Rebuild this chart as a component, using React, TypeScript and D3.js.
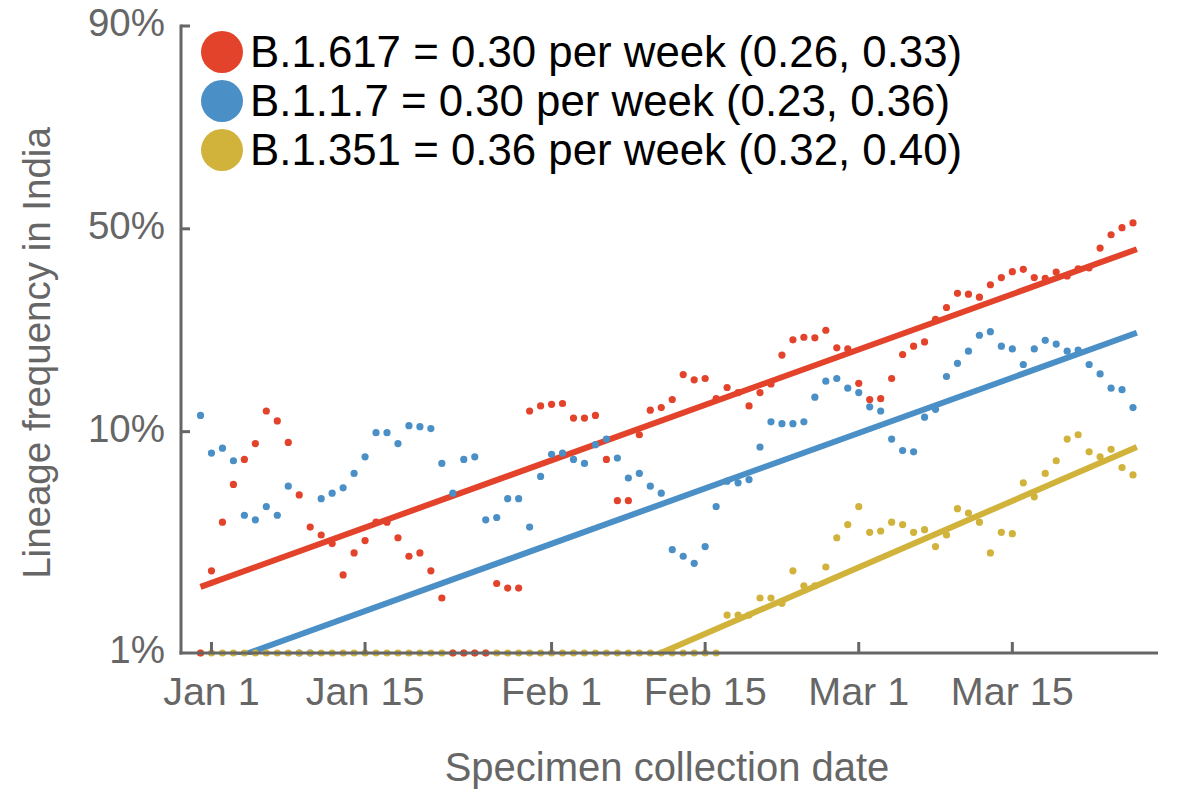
import React, { useEffect } from 'react';
import * as d3 from 'd3';

// ---------- data ----------
const firstDate = new Date(Date.UTC(2020, 11, 31)); // first sample day
const tickDates = [
  new Date(Date.UTC(2021, 0, 1)),
  new Date(Date.UTC(2021, 0, 15)),
  new Date(Date.UTC(2021, 1, 1)),
  new Date(Date.UTC(2021, 1, 15)),
  new Date(Date.UTC(2021, 2, 1)),
  new Date(Date.UTC(2021, 2, 15)),
];
const tickLabels = ['Jan 1', 'Jan 15', 'Feb 1', 'Feb 15', 'Mar 1', 'Mar 15'];
const yTickValues = [0.01, 0.1, 0.5, 0.9];
const yTickLabels = ['1%', '10%', '50%', '90%'];

const lineages = ['B.1.617', 'B.1.1.7', 'B.1.351'];
const colors = ['#E2432A', '#4A8FC6', '#D1B33C'];
const ratePerWeek = [0.3, 0.3, 0.36];
const rateLow = [0.26, 0.23, 0.32];
const rateHigh = [0.33, 0.36, 0.4];
const fitEndPct = [44.5, 24.5, 8.6]; // fitted frequency at the end of the fit line

// daily lineage frequency (%) ; 0 = none detected (drawn on the 1% floor)
const b1617 = [
  0, 2.4, 4.0, 5.9, 7.6, 8.9, 12.2, 11.1, 9.0, 5.3,
  3.8, 3.5, 3.2, 2.3, 2.9, 3.3, 4.0, 4.0, 3.4, 2.8,
  2.9, 2.4, 1.8, 0, 0, 0, 0, 2.1, 2.0, 2.0,
  12.2, 12.8, 13.0, 13.1, 11.4, 11.4, 11.7, 7.6, 5.0, 5.0,
  9.7, 12.3, 12.6, 13.6, 17.1, 16.3, 16.5, 13.7, 15.2, 14.5,
  12.8, 14.5, 15.7, 20.3, 23.1, 23.6, 23.5, 25.0, 21.6, 21.4,
  15.8, 13.6, 13.7, 16.5, 20.4, 21.9, 22.7, 27.3, 29.9, 33.2,
  33.0, 32.3, 35.3, 37.1, 38.6, 39.2, 37.1, 36.9, 38.5, 37.5,
  39.3, 39.6, 44.8, 48.4, 50.3, 51.6,
];
const b117 = [
  11.7, 8.1, 8.5, 7.5, 4.3, 4.1, 4.7, 4.3, 5.8, 0,
  0, 5.1, 5.4, 5.7, 6.6, 7.8, 9.9, 9.9, 8.9, 10.6,
  10.5, 10.3, 7.3, 5.4, 7.6, 7.8, 4.1, 4.2, 5.1, 5.1,
  3.8, 6.4, 8.0, 8.1, 7.6, 7.3, 8.8, 9.3, 7.7, 6.3,
  6.6, 5.8, 5.4, 3.0, 2.8, 2.6, 3.1, 4.7, 6.1, 6.0,
  6.2, 8.6, 11.0, 10.8, 10.8, 11.0, 13.9, 16.1, 16.5, 15.1,
  14.5, 12.7, 12.2, 9.3, 8.3, 8.2, 11.5, 12.4, 16.8, 18.9,
  21.0, 24.0, 24.7, 21.9, 21.4, 18.7, 21.4, 23.0, 22.3, 21.0,
  21.2, 18.7, 17.2, 15.1, 14.9, 12.6,
];
const b1351 = [
  0, 0, 0, 0, 0, 0, 0, 0, 0, 0,
  0, 0, 0, 0, 0, 0, 0, 0, 0, 0,
  0, 0, 0, 0, 0, 0, 0, 0, 0, 0,
  0, 0, 0, 0, 0, 0, 0, 0, 0, 0,
  0, 0, 0, 0, 0, 0, 0, 0, 1.5, 1.5,
  1.5, 1.8, 1.8, 1.7, 2.4, 2.05, 2.05, 2.5, 3.4, 3.9,
  4.7, 3.6, 3.65, 4.0, 3.9, 3.6, 3.7, 3.1, 3.5, 4.6,
  4.4, 4.0, 2.9, 3.6, 3.55, 6.0, 5.2, 6.6, 7.5, 9.3,
  9.7, 8.2, 7.8, 8.4, 7.0, 6.5,
];
const seriesValues = [b1617, b117, b1351];
const drawOrder = [1, 2, 0];

// ---------- layout ----------
const W = 1200;
const H = 797;
const axisColor = '#666666';
const font = '"Liberation Sans", Arial, Helvetica, sans-serif';
const plotLeft = 181;
const plotRight = 1158;
const plotTop = 26;
const plotBottom = 653;

const logit = (p: number) => Math.log(p / (1 - p));
const nDays = b1617.length;
const lastDate = d3.utcDay.offset(firstDate, nDays - 1);
const fitEnd = new Date(lastDate.getTime() + 0.35 * 86400000);

const x = d3.scaleUtc().domain([firstDate, lastDate]).range([200.5, 1133]);
const yLogit = d3
  .scaleLinear()
  .domain([logit(0.01), logit(0.9)])
  .range([plotBottom, plotTop]);
const y = (pct: number) => yLogit(logit(Math.max(pct, 1) / 100));

export default function App() {
  useEffect(() => {
    document.body.style.margin = '0';
  }, []);

  const dates = b1617.map((_, i) => d3.utcDay.offset(firstDate, i));

  const fitLine = (s: number) => {
    const lEnd = logit(fitEndPct[s] / 100);
    const perDay = ratePerWeek[s] / 7;
    const pts = [firstDate, fitEnd].map((d) => {
      const days = (fitEnd.getTime() - d.getTime()) / 86400000;
      return [x(d), yLogit(lEnd - perDay * days)] as [number, number];
    });
    return d3.line()(pts) || '';
  };

  return (
    <svg
      width={W}
      height={H}
      style={{ position: 'fixed', left: 0, top: 0, background: '#fff' }}
      fontFamily={font}
    >
      <defs>
        <clipPath id="plotClip">
          <rect x={plotLeft} y={0} width={plotRight - plotLeft} height={plotBottom + 2} />
        </clipPath>
      </defs>
      <rect x={0} y={0} width={W} height={H} fill="#fff" />

      {/* fit lines */}
      <g clipPath="url(#plotClip)">
        {[2, 1, 0].map((s) => (
          <path key={s} d={fitLine(s)} stroke={colors[s]} strokeWidth={6} fill="none" />
        ))}
      </g>

      {/* points */}
      {drawOrder.map((s) => (
        <g key={s} fill={colors[s]}>
          {seriesValues[s].map((v, i) => (
            <circle key={i} cx={x(dates[i])} cy={y(v)} r={3.6} />
          ))}
        </g>
      ))}

      {/* axes */}
      <g stroke={axisColor} strokeWidth={3} fill="none">
        <line x1={plotLeft} x2={plotLeft} y1={plotTop - 1.5} y2={plotBottom + 1.5} />
        <line x1={plotLeft - 1.5} x2={plotRight} y1={plotBottom} y2={plotBottom} />
        {yTickValues.slice(1).map((v) => (
          <line key={v} x1={plotLeft} x2={plotLeft + 9} y1={yLogit(logit(v))} y2={yLogit(logit(v))} />
        ))}
        {tickDates.map((d, i) => (
          <line key={i} x1={x(d)} x2={x(d)} y1={plotBottom} y2={plotBottom - 11} />
        ))}
      </g>
      <g fill={axisColor} fontSize={38.5} textAnchor="end">
        {yTickValues.map((v, i) => (
          <text key={v} x={165} y={yLogit(logit(v)) + 10}>
            {yTickLabels[i]}
          </text>
        ))}
      </g>
      <g fill={axisColor} fontSize={39.5} textAnchor="middle">
        {tickDates.map((d, i) => (
          <text key={i} x={x(d)} y={705}>
            {tickLabels[i]}
          </text>
        ))}
      </g>
      <text x={667} y={781} fill={axisColor} fontSize={40} textAnchor="middle">
        Specimen collection date
      </text>
      <text
        transform="translate(50,353) rotate(-90)"
        fill={axisColor}
        fontSize={38.5}
        textAnchor="middle"
      >
        Lineage frequency in India
      </text>

      {/* legend */}
      {lineages.map((name, s) => {
        const cy = 52 + s * 49;
        return (
          <g key={name}>
            <circle cx={222} cy={cy} r={21} fill={colors[s]} />
            <text x={250} y={cy + 15} fontSize={43.8} fill="#000">
              {`${name} = ${ratePerWeek[s].toFixed(2)} per week (${rateLow[s].toFixed(2)}, ${rateHigh[s].toFixed(2)})`}
            </text>
          </g>
        );
      })}
    </svg>
  );
}
